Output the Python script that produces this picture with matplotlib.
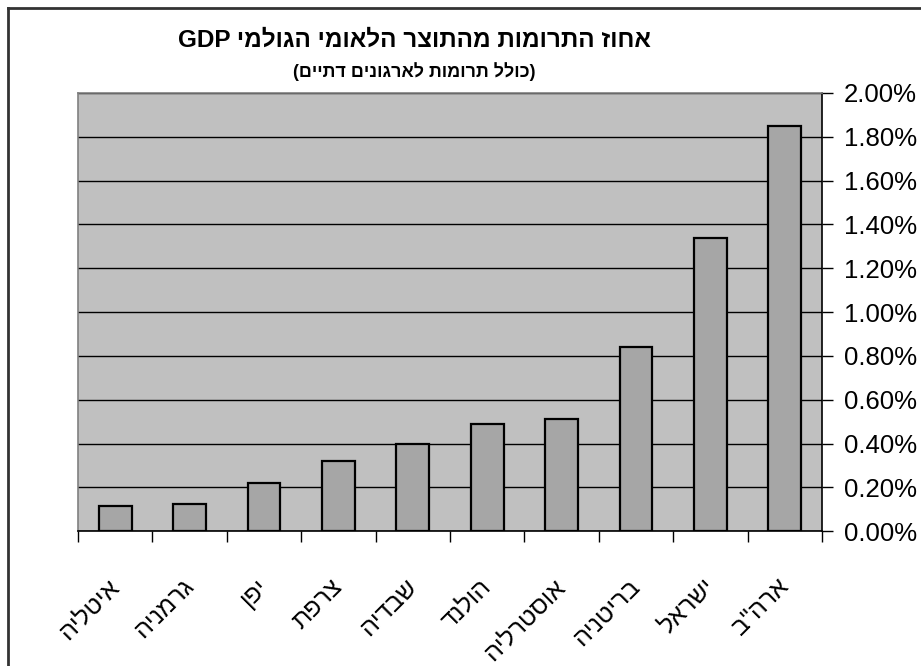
import matplotlib
matplotlib.use("Agg")
import numpy as np
from matplotlib import pyplot as plt
from matplotlib.ticker import PercentFormatter, FixedLocator
from matplotlib.lines import Line2D

plt.rcParams['font.family'] = ['Liberation Sans', 'DejaVu Sans']

# Data (logical Hebrew order, reversed for display since matplotlib has no bidi)
countries = ['איטליה', 'גרמניה', 'יפן', 'צרפת', 'שבדיה', 'הולנד',
             'אוסטרליה', 'בריטניה', 'ישראל', 'ארה"ב']
values = [0.115, 0.125, 0.22, 0.32, 0.40, 0.49, 0.51, 0.84, 1.34, 1.85]
title_he = 'אחוז התרומות מהתוצר הלאומי הגולמי'
subtitle_he = 'כולל תרומות לארגונים דתיים'


def vis(s):
    # visual order for RTL text
    return s[::-1]


W, H = 921, 666
fig = plt.figure(figsize=(W / 100, H / 100), dpi=100)
fig.patch.set_facecolor('white')
ax = fig.add_axes([78 / W, 1 - 531.3 / H, (822 - 78) / W, (531.3 - 92.8) / H])
ax.set_facecolor('#C0C0C0')

x = np.arange(len(countries))
ax.bar(x, values, width=0.44, color='#A6A6A6', edgecolor='black',
       linewidth=1.6, zorder=3)

ax.set_xlim(-0.5, len(countries) - 0.5)
ax.set_ylim(0, 2.0)
ax.set_yticks(np.arange(0, 2.01, 0.2))
ax.yaxis.set_major_formatter(PercentFormatter(100, decimals=2))
ax.yaxis.tick_right()
ax.tick_params(axis='y', direction='out', length=8, width=1, pad=8,
               labelsize=18.5, colors='black')
ax.grid(axis='y', color='black', linewidth=1, zorder=1)
ax.set_axisbelow(True)

# x ticks between categories, labels at category centres
ax.xaxis.set_major_locator(FixedLocator(np.arange(-0.5, len(countries), 1)))
ax.xaxis.set_major_formatter(plt.NullFormatter())
ax.xaxis.set_minor_locator(FixedLocator(x))
ax.set_xticklabels([vis(c) for c in countries], minor=True)
ax.tick_params(axis='x', which='major', direction='out', length=8, width=1)
ax.tick_params(axis='x', which='minor', length=0, pad=37, labelsize=18)
for lbl in ax.get_xticklabels(minor=True):
    lbl.set_rotation(45)
    lbl.set_ha('right')
    lbl.set_va('center')
    lbl.set_rotation_mode('anchor')

ax.spines['left'].set_color('#808080')
ax.spines['top'].set_color('#808080')
ax.spines['bottom'].set_color('black')
ax.spines['right'].set_color('black')
for s in ax.spines.values():
    s.set_linewidth(1.2)

fig.text(414 / W, 1 - 40 / H, 'GDP ' + vis(title_he), ha='center', va='center',
         fontsize=17.5, fontweight='bold')
fig.text(414 / W, 1 - 72 / H, '(' + vis(subtitle_he) + ')', ha='center',
         va='center', fontsize=13, fontweight='bold')

# chart frame (left and top edges visible)
fig.add_artist(Line2D([8 / W, 8 / W], [0, 1 - 8 / H], transform=fig.transFigure,
                      color='#333333', linewidth=2))
fig.add_artist(Line2D([8 / W, 1], [1 - 8 / H, 1 - 8 / H], transform=fig.transFigure,
                      color='#333333', linewidth=2))

fig.savefig('out.png', dpi=100)
